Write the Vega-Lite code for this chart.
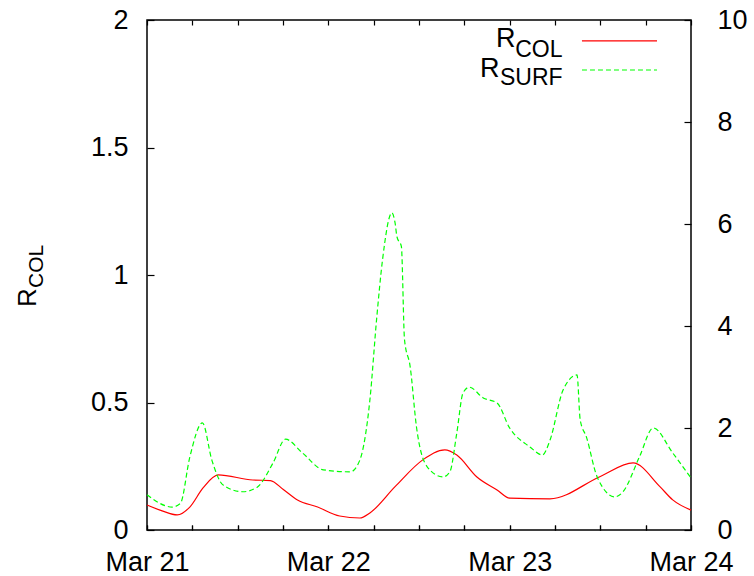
{
  "$schema": "https://vega.github.io/schema/vega-lite/v6.json",
  "width": 544,
  "height": 510,
  "autosize": "none",
  "padding": {"left": 147, "top": 20, "right": 63, "bottom": 46},
  "background": "white",
  "config": {
    "view": {"stroke": "#000000", "strokeWidth": 1.5},
    "font": "Liberation Sans",
    "axis": {
      "domain": false,
      "grid": false,
      "tickColor": "#000000",
      "tickWidth": 1.2,
      "labelColor": "#000000",
      "labelFont": "Liberation Sans",
      "labelFontSize": 27,
      "labelFlush": false,
      "labelOverlap": false,
      "labelBound": false,
      "title": null
    },
    "axisX": {
      "grid": true,
      "gridColor": "#000000",
      "gridWidth": 1.2,
      "gridOpacity": 1,
      "gridDash": [5, 500, 5, 100],
      "ticks": true,
      "tickSize": -5,
      "labelPadding": 24
    },
    "axisY": {"grid": false}
  },
  "datasets": {
    "col": [
      {"t": "2024-03-21T00:00", "v": 0.098},
      {"t": "2024-03-21T02:00", "v": 0.075},
      {"t": "2024-03-21T04:00", "v": 0.059},
      {"t": "2024-03-21T05:40", "v": 0.09},
      {"t": "2024-03-21T07:25", "v": 0.165},
      {"t": "2024-03-21T09:25", "v": 0.216},
      {"t": "2024-03-21T14:00", "v": 0.196},
      {"t": "2024-03-21T16:20", "v": 0.194},
      {"t": "2024-03-21T18:00", "v": 0.16},
      {"t": "2024-03-21T19:55", "v": 0.118},
      {"t": "2024-03-21T22:35", "v": 0.09},
      {"t": "2024-03-22T01:30", "v": 0.055},
      {"t": "2024-03-22T04:10", "v": 0.047},
      {"t": "2024-03-22T05:30", "v": 0.067},
      {"t": "2024-03-22T08:50", "v": 0.17},
      {"t": "2024-03-22T12:30", "v": 0.275},
      {"t": "2024-03-22T15:25", "v": 0.314},
      {"t": "2024-03-22T17:00", "v": 0.294},
      {"t": "2024-03-22T19:40", "v": 0.208},
      {"t": "2024-03-22T22:20", "v": 0.157},
      {"t": "2024-03-23T00:00", "v": 0.125},
      {"t": "2024-03-23T05:20", "v": 0.122},
      {"t": "2024-03-23T12:00", "v": 0.21},
      {"t": "2024-03-23T16:20", "v": 0.263},
      {"t": "2024-03-23T19:55", "v": 0.169},
      {"t": "2024-03-23T21:35", "v": 0.118},
      {"t": "2024-03-24T00:00", "v": 0.078}
    ],
    "surf": [
      {"t": "2024-03-21T00:00", "v": 0.69},
      {"t": "2024-03-21T03:20", "v": 0.45},
      {"t": "2024-03-21T04:25", "v": 0.52},
      {"t": "2024-03-21T05:40", "v": 1.43},
      {"t": "2024-03-21T07:20", "v": 2.1},
      {"t": "2024-03-21T08:35", "v": 1.37},
      {"t": "2024-03-21T10:05", "v": 0.88},
      {"t": "2024-03-21T12:40", "v": 0.75},
      {"t": "2024-03-21T14:35", "v": 0.84},
      {"t": "2024-03-21T16:40", "v": 1.31},
      {"t": "2024-03-21T18:20", "v": 1.78},
      {"t": "2024-03-21T20:35", "v": 1.51},
      {"t": "2024-03-21T23:20", "v": 1.18},
      {"t": "2024-03-22T02:55", "v": 1.14},
      {"t": "2024-03-22T04:10", "v": 1.37},
      {"t": "2024-03-22T05:30", "v": 2.55},
      {"t": "2024-03-22T06:25", "v": 4.18},
      {"t": "2024-03-22T07:10", "v": 5.29},
      {"t": "2024-03-22T08:25", "v": 6.22},
      {"t": "2024-03-22T08:50", "v": 6.02},
      {"t": "2024-03-22T09:05", "v": 5.75},
      {"t": "2024-03-22T09:40", "v": 5.56},
      {"t": "2024-03-22T10:05", "v": 3.73},
      {"t": "2024-03-22T10:50", "v": 3.2},
      {"t": "2024-03-22T11:40", "v": 2.02},
      {"t": "2024-03-22T13:05", "v": 1.24},
      {"t": "2024-03-22T15:10", "v": 1.04},
      {"t": "2024-03-22T16:05", "v": 1.14},
      {"t": "2024-03-22T17:00", "v": 1.9},
      {"t": "2024-03-22T17:50", "v": 2.69},
      {"t": "2024-03-22T18:40", "v": 2.8},
      {"t": "2024-03-22T20:30", "v": 2.59},
      {"t": "2024-03-22T22:20", "v": 2.49},
      {"t": "2024-03-23T00:00", "v": 2.0},
      {"t": "2024-03-23T02:40", "v": 1.63},
      {"t": "2024-03-23T04:20", "v": 1.47},
      {"t": "2024-03-23T05:20", "v": 1.76},
      {"t": "2024-03-23T07:05", "v": 2.75},
      {"t": "2024-03-23T08:55", "v": 3.04},
      {"t": "2024-03-23T09:20", "v": 2.16},
      {"t": "2024-03-23T10:10", "v": 1.82},
      {"t": "2024-03-23T11:35", "v": 1.04},
      {"t": "2024-03-23T13:55", "v": 0.65},
      {"t": "2024-03-23T15:00", "v": 0.75},
      {"t": "2024-03-23T17:10", "v": 1.43},
      {"t": "2024-03-23T19:00", "v": 2.0},
      {"t": "2024-03-23T21:35", "v": 1.51},
      {"t": "2024-03-24T00:00", "v": 1.02}
    ]
  },
  "layer": [
    {
      "data": {"name": "col"},
      "mark": {"type": "line", "color": "#ff0000", "strokeWidth": 1.2, "interpolate": "monotone"},
      "encoding": {
        "x": {
          "field": "t", "type": "temporal",
          "scale": {"domain": [{"year": 2024, "month": 3, "date": 21}, {"year": 2024, "month": 3, "date": 24}]},
          "axis": {
            "orient": "bottom",
            "values": [
              {"year": 2024, "month": 3, "date": 21, "hours": 0},
              {"year": 2024, "month": 3, "date": 21, "hours": 6},
              {"year": 2024, "month": 3, "date": 21, "hours": 12},
              {"year": 2024, "month": 3, "date": 21, "hours": 18},
              {"year": 2024, "month": 3, "date": 22, "hours": 0},
              {"year": 2024, "month": 3, "date": 22, "hours": 6},
              {"year": 2024, "month": 3, "date": 22, "hours": 12},
              {"year": 2024, "month": 3, "date": 22, "hours": 18},
              {"year": 2024, "month": 3, "date": 23, "hours": 0},
              {"year": 2024, "month": 3, "date": 23, "hours": 6},
              {"year": 2024, "month": 3, "date": 23, "hours": 12},
              {"year": 2024, "month": 3, "date": 23, "hours": 18},
              {"year": 2024, "month": 3, "date": 24, "hours": 0}
            ],
            "labelExpr": "timeFormat(datum.value, '%H') == '00' ? timeFormat(datum.value, '%b %d') : ''"
          }
        },
        "y": {
          "field": "v", "type": "quantitative",
          "scale": {"domain": [0, 2]},
          "axis": {"orient": "left", "values": [0, 0.5, 1, 1.5, 2], "format": "~r", "tickSize": -7, "labelPadding": 26}
        }
      }
    },
    {
      "data": {"name": "surf"},
      "mark": {"type": "line", "color": "#00ff00", "strokeWidth": 1.2, "strokeDash": [5, 3], "interpolate": "monotone"},
      "encoding": {
        "x": {"field": "t", "type": "temporal"},
        "y": {
          "field": "v", "type": "quantitative",
          "scale": {"domain": [0, 10]},
          "axis": {"orient": "right", "values": [0, 2, 4, 6, 8, 10], "format": "~r", "tickSize": -7, "labelPadding": 33}
        }
      }
    },
    {
      "data": {"values": [{}]},
      "mark": {"type": "text", "text": "R", "fontSize": 27, "align": "right", "baseline": "alphabetic", "dx": -47, "color": "#000000"},
      "encoding": {
        "x": {"datum": {"year": 2024, "month": 3, "date": 23, "hours": 7}, "type": "temporal"},
        "y": {"datum": 1.894, "type": "quantitative", "scale": {"domain": [0, 2]}, "axis": null}
      }
    },
    {
      "data": {"values": [{}]},
      "mark": {"type": "text", "text": "COL", "fontSize": 23, "align": "right", "baseline": "alphabetic", "color": "#000000"},
      "encoding": {
        "x": {"datum": {"year": 2024, "month": 3, "date": 23, "hours": 7}, "type": "temporal"},
        "y": {"datum": 1.855, "type": "quantitative", "scale": {"domain": [0, 2]}, "axis": null}
      }
    },
    {
      "data": {"values": [{}]},
      "mark": {"type": "text", "text": "R", "fontSize": 27, "align": "right", "baseline": "alphabetic", "dx": -63, "color": "#000000"},
      "encoding": {
        "x": {"datum": {"year": 2024, "month": 3, "date": 23, "hours": 7}, "type": "temporal"},
        "y": {"datum": 1.776, "type": "quantitative", "scale": {"domain": [0, 2]}, "axis": null}
      }
    },
    {
      "data": {"values": [{}]},
      "mark": {"type": "text", "text": "SURF", "fontSize": 23, "align": "right", "baseline": "alphabetic", "color": "#000000"},
      "encoding": {
        "x": {"datum": {"year": 2024, "month": 3, "date": 23, "hours": 7}, "type": "temporal"},
        "y": {"datum": 1.745, "type": "quantitative", "scale": {"domain": [0, 2]}, "axis": null}
      }
    },
    {
      "data": {"values": [{}]},
      "mark": {"type": "rule", "color": "#ff0000", "strokeWidth": 1.2},
      "encoding": {
        "x": {"datum": {"year": 2024, "month": 3, "date": 23, "hours": 9, "minutes": 34}, "type": "temporal"},
        "x2": {"datum": {"year": 2024, "month": 3, "date": 23, "hours": 19, "minutes": 30}},
        "y": {"datum": 1.918, "type": "quantitative", "scale": {"domain": [0, 2]}, "axis": null}
      }
    },
    {
      "data": {"values": [{}]},
      "mark": {"type": "rule", "color": "#00ff00", "strokeWidth": 1.2, "strokeDash": [5, 3]},
      "encoding": {
        "x": {"datum": {"year": 2024, "month": 3, "date": 23, "hours": 9, "minutes": 34}, "type": "temporal"},
        "x2": {"datum": {"year": 2024, "month": 3, "date": 23, "hours": 19, "minutes": 30}},
        "y": {"datum": 1.804, "type": "quantitative", "scale": {"domain": [0, 2]}, "axis": null}
      }
    },
    {
      "data": {"values": [{}]},
      "mark": {"type": "text", "text": "R", "fontSize": 26, "angle": 270, "align": "left", "baseline": "alphabetic", "color": "#000000"},
      "encoding": {
        "x": {"datum": {"year": 2024, "month": 3, "date": 20, "hours": 9, "minutes": 18}, "type": "temporal"},
        "y": {"datum": 0.8745, "type": "quantitative", "scale": {"domain": [0, 2]}, "axis": null}
      }
    },
    {
      "data": {"values": [{}]},
      "mark": {"type": "text", "text": "COL", "fontSize": 21, "angle": 270, "align": "left", "baseline": "alphabetic", "dy": 7, "color": "#000000"},
      "encoding": {
        "x": {"datum": {"year": 2024, "month": 3, "date": 20, "hours": 9, "minutes": 18}, "type": "temporal"},
        "y": {"datum": 0.949, "type": "quantitative", "scale": {"domain": [0, 2]}, "axis": null}
      }
    }
  ],
  "resolve": {"scale": {"y": "independent"}}
}
